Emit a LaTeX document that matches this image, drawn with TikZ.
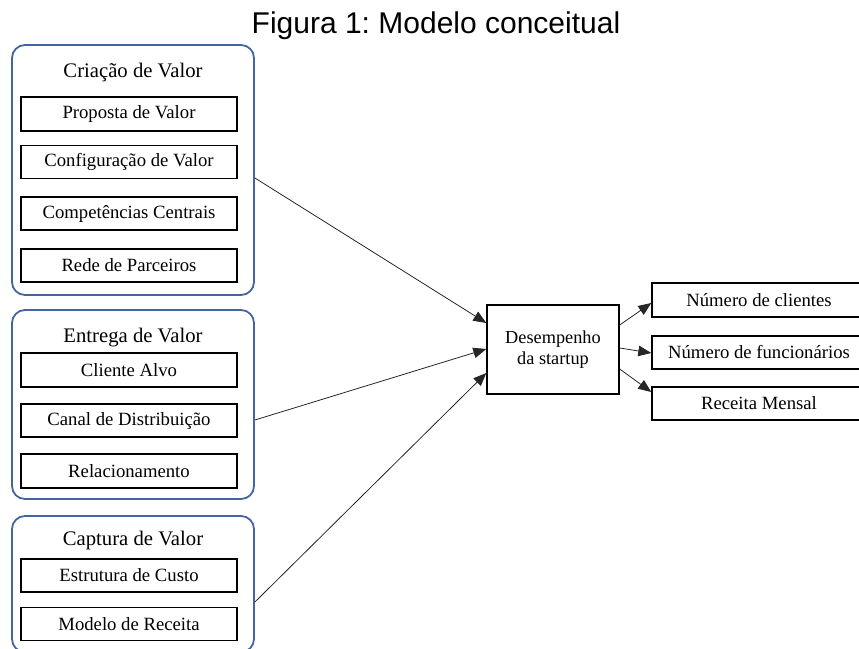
\documentclass[tikz,border=0pt]{standalone}
\usepackage{fontspec}
\setmainfont{Liberation Serif}
\newfontfamily\titlefont{Liberation Sans}
\usetikzlibrary{arrows.meta,calc}
\definecolor{frameblue}{RGB}{68,102,160}
\tikzset{
  outerbox/.style={draw=frameblue, line width=1.8pt, rounded corners=13pt, rectangle, inner sep=0pt},
  innerbox/.style={draw=black, line width=1.4pt, rectangle, minimum width=216pt, inner sep=0pt, font=\fontsize{18.7}{20}\selectfont},
  grouptitle/.style={anchor=base, inner sep=0pt, font=\fontsize{20.7}{22}\selectfont},
  centerbox/.style={draw=black, line width=1.4pt, rectangle, minimum width=132pt, minimum height=89pt, inner sep=0pt, align=center, font=\fontsize{18.3}{21}\selectfont},
  outbox/.style={draw=black, line width=1.4pt, rectangle, minimum width=214pt, inner sep=0pt, font=\fontsize{18.7}{20}\selectfont},
  conn/.style={draw=black!85, line width=0.8pt, -{Triangle[length=13pt,width=10.5pt]}},
}
\begin{document}
\frenchspacing
\begin{tikzpicture}[x=1pt,y=-1pt]
\useasboundingbox (0,0) rectangle (859,648);
\node[anchor=base, inner sep=0pt, font=\titlefont\fontsize{30}{32}\selectfont] (title) at (436,33) {Figura 1: Modelo conceitual};

% group 1
\node[outerbox, minimum width=242pt, minimum height=250pt] (g1) at (133,170) {};
\node[grouptitle] (g1t) at (133,77) {Criação de Valor};
\node[innerbox, minimum height=34pt] (a1) at (129,114) {Proposta de Valor};
\node[innerbox, minimum height=33pt] (a2) at (129,162) {Configuração de Valor};
\node[innerbox, minimum height=33pt] (a3) at (129,213.5) {Competências Centrais};
\node[innerbox, minimum height=33pt] (a4) at (129,265.5) {Rede de Parceiros};

% group 2
\node[outerbox, minimum width=242pt, minimum height=189pt] (g2) at (133,404.5) {};
\node[grouptitle] (g2t) at (133,342) {Entrega de Valor};
\node[innerbox, minimum height=34pt] (b1) at (129,370) {Cliente Alvo};
\node[innerbox, minimum height=33pt] (b2) at (129,420.5) {Canal de Distribuição};
\node[innerbox, minimum height=34pt] (b3) at (129,471) {Relacionamento};

% group 3
\node[outerbox, minimum width=242pt, minimum height=136pt] (g3) at (133,584) {};
\node[grouptitle] (g3t) at (133,545) {Captura de Valor};
\node[innerbox, minimum height=33pt] (c1) at (129,575.5) {Estrutura de Custo};
\node[innerbox, minimum height=33pt] (c2) at (129,624) {Modelo de Receita};

% center
\node[centerbox] (perf) at (553,349.5) {Desempenho\\da startup};

% outputs
\node[outbox, minimum height=34pt] (r1) at (759,300) {Número de clientes};
\node[outbox, minimum height=33pt] (r2) at (759,352.5) {Número de funcionários};
\node[outbox, minimum height=33pt] (r3) at (759,403.5) {Receita Mensal};

% connectors
\draw[conn] ([yshift=-8pt]g1.east) -- ([yshift=26.5pt]perf.west);
\draw[conn] ([yshift=-15.5pt]g2.east) -- ([yshift=0.5pt]perf.west);
\draw[conn] ([yshift=-18pt]g3.east) -- ([yshift=-23.5pt]perf.west);
\draw[conn] ([yshift=24.5pt]perf.east) -- ([yshift=-3pt]r1.west);
\draw[conn] ([yshift=1.5pt]perf.east) -- ([yshift=-0.5pt]r2.west);
\draw[conn] ([yshift=-19.5pt]perf.east) -- ([yshift=11.5pt]r3.west);
\end{tikzpicture}
\end{document}
